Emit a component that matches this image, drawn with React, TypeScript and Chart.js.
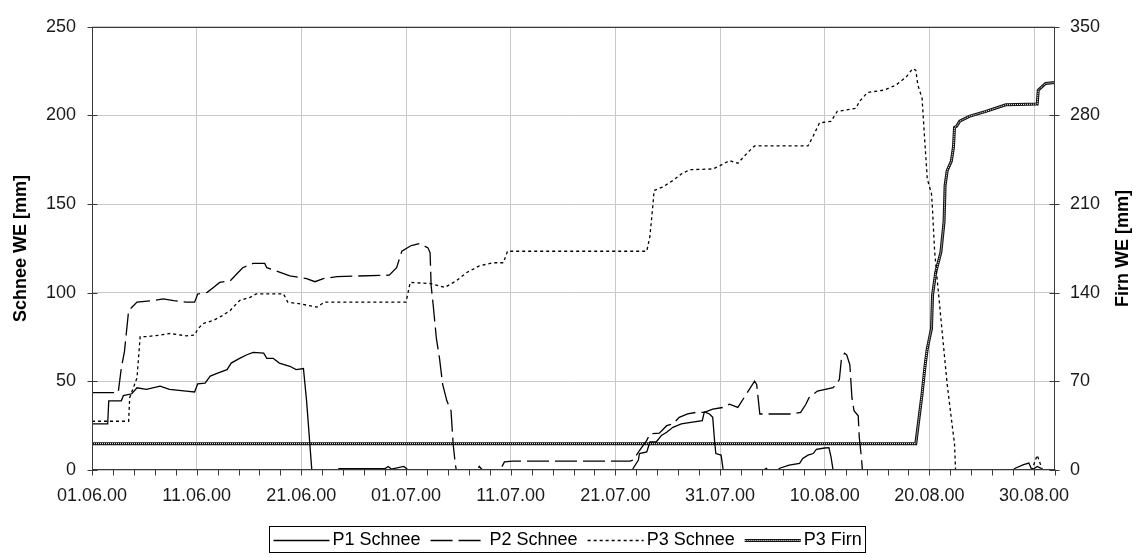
import React, { useEffect, useRef } from 'react';
import { Chart, registerables } from 'chart.js';

Chart.register(...registerables);

// ---------- data (x = days since 01.06.00) ----------
const xTickDays = [0, 10, 20, 30, 40, 50, 60, 70, 80, 90];
const xTickLabels = ['01.06.00', '11.06.00', '21.06.00', '01.07.00', '11.07.00', '21.07.00', '31.07.00', '10.08.00', '20.08.00', '30.08.00'];
const leftTicks = [0, 50, 100, 150, 200, 250];
const rightTicks = [0, 70, 140, 210, 280, 350];
const leftTitle = 'Schnee WE [mm]';
const rightTitle = 'Firn WE [mm]';
const seriesLabels = ['P1 Schnee', 'P2 Schnee', 'P3 Schnee', 'P3 Firn'];

const p1Days = [0, 1.5, 1.6, 2.8, 3.0, 3.8, 4.3, 5.2, 6.5, 7.4, 9.0, 9.8, 10.1, 10.8, 11.3, 12.0, 12.9, 13.3, 14.1, 14.8, 15.4, 16.4, 16.7, 17.3, 17.9, 18.9, 19.5, 20.2, 20.5, 21.0, 23.5, 23.6, 28.0, 28.3, 28.6, 29.8, 30.2, 51.6, 52.2, 52.3, 53.0, 53.3, 53.9, 54.4, 54.9, 55.5, 56.3, 57.2, 58.3, 58.5, 59.0, 59.3, 59.5, 59.6, 60.1, 60.3, 64.2, 64.4, 64.6, 65.5, 65.7, 66.6, 67.6, 67.9, 68.4, 68.9, 69.2, 70.0, 70.4, 70.6, 70.8, 88.0, 88.2, 89.0, 89.5, 89.8, 92];
const p1Values = [26, 26, 39, 39, 42, 43, 46.4, 45.5, 47.3, 45.5, 44.5, 44, 48.6, 49, 53, 54.7, 56.6, 60.3, 63, 65, 66.4, 65.9, 63, 63, 60.3, 58.5, 56.6, 57.2, 39, 0, 0, 0.8, 0.8, 2, 0.5, 2, 0, 0, 5.6, 9.3, 10.2, 15.8, 15.8, 19.5, 21.3, 24.1, 26, 26.9, 27.8, 32.8, 31.6, 29.7, 14.8, 9.3, 8.4, 0, 0, 1, 0, 0, 1, 2.8, 3.7, 6.5, 8.4, 9.3, 11.7, 12.4, 12.6, 7.4, 0, 0, 1, 3, 3.9, 0, 0];

const p2Days = [0, 2.5, 2.8, 3.1, 3.5, 4.3, 5.9, 6.8, 7.8, 9.0, 9.8, 10.1, 11.0, 11.6, 12.2, 13.2, 13.8, 14.4, 15.4, 16.5, 16.7, 17.6, 18.9, 19.9, 20.5, 21.3, 22.1, 23.4, 28.4, 29.1, 29.6, 30.5, 31.3, 32.1, 32.3, 32.4, 32.6, 32.9, 33.2, 33.5, 33.9, 34.3, 34.5, 34.7, 34.8, 36.8, 37.0, 37.3, 39.0, 39.4, 40.2, 51.4, 51.7, 52.3, 53.0, 53.3, 54.2, 54.9, 55.5, 56.1, 56.9, 57.7, 58.5, 59.3, 60.3, 60.9, 61.7, 62.5, 63.3, 63.5, 63.8, 66.9, 67.7, 68.2, 68.5, 69.3, 70.8, 71.4, 71.6, 71.9, 72.1, 72.4, 72.6, 72.8, 73.2, 73.3, 73.5, 73.6, 89.8, 90.3, 91.0, 92];
const p2Values = [43.6, 43.6, 57.5, 66.8, 90, 94.7, 95.6, 96.5, 95.6, 94.7, 94.7, 99.3, 100.2, 103, 105.8, 106.7, 110.4, 114.1, 116.5, 116.5, 114.1, 112.3, 109.5, 108.6, 108, 106.2, 108, 109.1, 109.9, 114.1, 123.4, 126.6, 127.7, 125.3, 122.5, 104, 92.8, 74.2, 63, 48.3, 39, 33.4, 14.8, 3.7, 0, 0, 2, 0, 0, 4.6, 5, 5, 5.6, 11, 16.7, 20.4, 20.8, 25, 26, 29.7, 31.6, 32.5, 32.5, 34.3, 35.3, 37.1, 35.3, 42.7, 50.1, 48.3, 31.6, 31.6, 32.5, 37.1, 40.8, 44.5, 46.4, 51, 63, 65.9, 65, 59.4, 40.8, 33.4, 30.6, 18.5, 7.4, 0, 0, 2, 0, 0];

const p3Days = [0, 3.5, 3.6, 4.3, 4.6, 5.2, 6.5, 7.4, 9.0, 9.8, 10.1, 10.6, 11.6, 12.5, 13.2, 14.1, 15.1, 15.7, 18.3, 18.7, 19.9, 21.5, 22.2, 30.0, 30.4, 32.3, 33.7, 34.8, 35.8, 37.0, 38.3, 39.3, 39.7, 53.0, 53.3, 53.6, 53.7, 54.5, 55.5, 56.3, 57.1, 59.3, 60.0, 60.9, 61.7, 62.2, 62.8, 63.3, 68.4, 68.9, 69.5, 70.6, 71.2, 73.0, 73.3, 74.1, 75.7, 76.8, 77.8, 78.4, 78.7, 78.9, 79.3, 79.5, 79.6, 79.8, 80.2, 80.3, 80.5, 80.8, 81.1, 81.4, 81.7, 82.2, 82.4, 82.5, 89.8, 90.3, 90.8, 92];
const p3Values = [27.5, 27.5, 40.8, 52, 75.2, 75.2, 76.1, 77, 75.7, 76.1, 79.4, 82.6, 84.4, 87.2, 90, 95.6, 97.4, 99.3, 99.3, 94.7, 93.7, 91.9, 94.7, 94.7, 105.8, 105.2, 103, 106.7, 111.4, 115.1, 116.9, 116.9, 123.4, 123.4, 131.8, 150.3, 157.7, 159.6, 163.3, 167, 169.4, 169.8, 171.7, 174.5, 173, 176.3, 180, 182.8, 182.8, 188.4, 195.8, 196.7, 202.3, 204.1, 207.8, 213, 214.3, 217.1, 221.8, 226.4, 225.5, 217.1, 209.7, 191.1, 181.9, 164.2, 155.9, 146.6, 123.3, 104, 85.3, 66.8, 48.3, 24.1, 14.8, 0, 0, 8.4, 0, 0];

const firnDays = [0, 78.7, 79.3, 79.6, 79.8, 80.2, 80.3, 80.6, 81.1, 81.4, 81.5, 81.7, 82.1, 82.3, 82.4, 82.6, 82.9, 83.8, 85.4, 87.3, 90.3, 90.4, 91.1, 92];
const firnValues = [20.8, 20.8, 60, 83.4, 96, 111.7, 138, 156, 172, 196, 224.7, 236.4, 244, 255, 270.5, 271.5, 275.4, 279.3, 283.2, 288.4, 289, 300, 305.3, 306];

const FONT = '"Liberation Sans", Arial, sans-serif';
const toPoints = (xs: number[], ys: number[]) => xs.map((x, i) => ({ x, y: ys[i] }));

const styles = [
  { dash: [] as number[], width: 1.3 },
  { dash: [22, 6], width: 1.3 },
  { dash: [3, 3], width: 1.3 },
];

const decorPlugin = {
  id: 'decor',
  afterDraw(chart: any) {
    const { ctx, chartArea: ca, scales } = chart;
    ctx.save();
    const L = Math.round(ca.left) + 0.5;
    const R = Math.round(ca.right) - 0.5;
    const T = Math.round(ca.top) + 0.5;
    const B = Math.round(ca.bottom) - 0.5;
    ctx.strokeStyle = '#3a3a3a';
    ctx.lineWidth = 1;
    ctx.setLineDash([]);
    ctx.strokeRect(L, T, R - L, B - T);
    // x ticks every 2 days
    ctx.beginPath();
    for (let d = 0; d <= 92; d += 2) {
      const x = Math.round(scales.x.getPixelForValue(d)) + 0.5;
      ctx.moveTo(x, B);
      ctx.lineTo(x, B + 6);
    }
    // y ticks (cross)
    leftTicks.forEach((v) => {
      const y = Math.round(scales.y.getPixelForValue(v)) + 0.5;
      ctx.moveTo(L - 5, y);
      ctx.lineTo(L + 5, y);
    });
    rightTicks.forEach((v) => {
      const y = Math.round(scales.y1.getPixelForValue(v)) + 0.5;
      ctx.moveTo(R - 5, y);
      ctx.lineTo(R + 5, y);
    });
    ctx.stroke();

    // axis titles
    ctx.fillStyle = '#000';
    ctx.font = 'bold 18px ' + FONT;
    ctx.textAlign = 'center';
    ctx.textBaseline = 'middle';
    const cy = (ca.top + ca.bottom) / 2;
    ctx.save();
    ctx.translate(21, cy);
    ctx.rotate(-Math.PI / 2);
    ctx.fillText(leftTitle, 0, 0);
    ctx.restore();
    ctx.save();
    ctx.translate(1123, cy);
    ctx.rotate(-Math.PI / 2);
    ctx.fillText(rightTitle, 0, 0);
    ctx.restore();

    // legend
    ctx.font = '18px ' + FONT;
    const sampleLen = 56, gapText = 3, itemGap = 10, pad = 4;
    const widths = seriesLabels.map((l) => ctx.measureText(l).width);
    const total = pad * 2 + widths.reduce((a, w) => a + sampleLen + gapText + w, 0) + itemGap * (seriesLabels.length - 1);
    const bx = Math.round(567 - total / 2) + 0.5;
    const by = 526.5;
    const bh = 26;
    ctx.strokeStyle = '#000';
    ctx.lineWidth = 1;
    ctx.strokeRect(bx, by, Math.round(total), bh);
    let x = bx + pad;
    const ly = Math.round(by + bh / 2) + 0.5;
    seriesLabels.forEach((lab, i) => {
      if (i < 3) {
        ctx.strokeStyle = '#000';
        ctx.lineWidth = styles[i].width;
        ctx.setLineDash(styles[i].dash);
        ctx.beginPath();
        ctx.moveTo(x, ly);
        ctx.lineTo(x + sampleLen, ly);
        ctx.stroke();
      } else {
        ctx.setLineDash([]);
        ctx.strokeStyle = '#111';
        ctx.lineWidth = 3;
        ctx.beginPath();
        ctx.moveTo(x, ly);
        ctx.lineTo(x + sampleLen, ly);
        ctx.stroke();
        ctx.strokeStyle = '#fff';
        ctx.lineWidth = 1;
        ctx.setLineDash([1, 1]);
        ctx.beginPath();
        ctx.moveTo(x, ly);
        ctx.lineTo(x + sampleLen, ly);
        ctx.stroke();
      }
      ctx.setLineDash([]);
      x += sampleLen + gapText;
      ctx.fillStyle = '#000';
      ctx.textAlign = 'left';
      ctx.textBaseline = 'middle';
      ctx.fillText(lab, x, by + bh / 2 + 1);
      x += widths[i] + itemGap;
    });
    ctx.restore();
  },
};

export default function App() {
  const ref = useRef<HTMLCanvasElement | null>(null);
  useEffect(() => {
    if (!ref.current) return;
    const tickFont = { family: FONT, size: 18 };
    const chart = new Chart(ref.current, {
      type: 'line',
      data: {
        datasets: [
          { label: seriesLabels[0], data: toPoints(p1Days, p1Values), yAxisID: 'y', borderColor: '#000', borderWidth: styles[0].width, borderDash: styles[0].dash, pointRadius: 0, tension: 0, order: 0 },
          { label: seriesLabels[1], data: toPoints(p2Days, p2Values), yAxisID: 'y', borderColor: '#000', borderWidth: styles[1].width, borderDash: styles[1].dash, pointRadius: 0, tension: 0, order: 1 },
          { label: seriesLabels[2], data: toPoints(p3Days, p3Values), yAxisID: 'y', borderColor: '#000', borderWidth: styles[2].width, borderDash: styles[2].dash, pointRadius: 0, tension: 0, order: 2 },
          { label: seriesLabels[3], data: toPoints(firnDays, firnValues), yAxisID: 'y1', borderColor: '#111', borderWidth: 3, pointRadius: 0, tension: 0, order: 4 },
          { label: '', data: toPoints(firnDays, firnValues), yAxisID: 'y1', borderColor: '#fff', borderWidth: 1, borderDash: [1, 1], pointRadius: 0, tension: 0, order: 3 },
        ] as any,
      },
      options: {
        animation: false,
        responsive: true,
        maintainAspectRatio: false,
        devicePixelRatio: 1,
        layout: { padding: { top: 21, left: 0, right: 0, bottom: 0 } },
        plugins: { legend: { display: false }, tooltip: { enabled: false } },
        scales: {
          x: {
            type: 'linear',
            min: 0,
            max: 92,
            afterBuildTicks: (s: any) => { s.ticks = xTickDays.map((v) => ({ value: v })); },
            afterFit: (s: any) => { s.height = 88; },
            grid: { color: '#c8c8c8', drawTicks: false, lineWidth: 1 },
            border: { display: false },
            ticks: {
              autoSkip: false, maxRotation: 0, minRotation: 0, padding: 15, color: '#1a1a1a', font: tickFont,
              callback: (v: any) => { const i = xTickDays.indexOf(Number(v)); return i >= 0 ? xTickLabels[i] : ''; },
            },
          },
          y: {
            position: 'left',
            min: 0,
            max: 250,
            afterBuildTicks: (s: any) => { s.ticks = leftTicks.map((v) => ({ value: v })); },
            afterFit: (s: any) => { s.width = 92; },
            grid: { color: '#c8c8c8', drawTicks: false, lineWidth: 1 },
            border: { display: false },
            ticks: { padding: 16, color: '#1a1a1a', font: tickFont },
          },
          y1: {
            position: 'right',
            min: 0,
            max: 350,
            afterBuildTicks: (s: any) => { s.ticks = rightTicks.map((v) => ({ value: v })); },
            afterFit: (s: any) => { s.width = 85; },
            grid: { drawOnChartArea: false, drawTicks: false },
            border: { display: false },
            ticks: { padding: 15, color: '#1a1a1a', font: tickFont },
          },
        },
      } as any,
      plugins: [decorPlugin],
    });
    return () => chart.destroy();
  }, []);
  return (
    <div style={{ position: 'absolute', left: 0, top: 0, width: 1140, height: 558, background: '#fff' }}>
      <canvas ref={ref} />
    </div>
  );
}
